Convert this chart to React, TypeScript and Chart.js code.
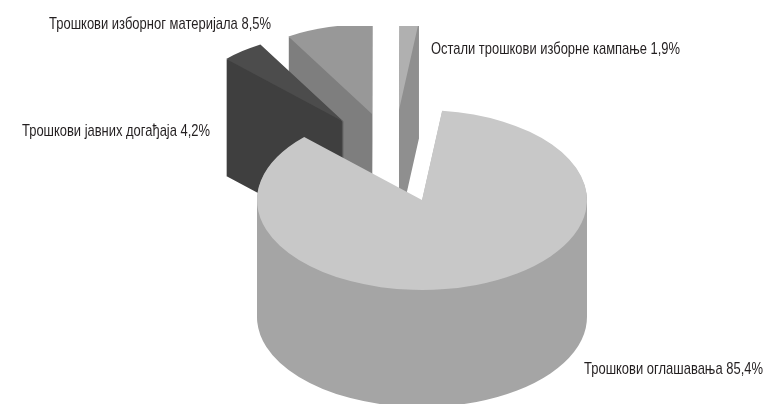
import React, { useEffect, useRef } from "react";
import { Chart, registerables } from "chart.js";

Chart.register(...registerables);

const categories = [
  "Трошкови оглашавања",
  "Трошкови јавних догађаја",
  "Трошкови изборног материјала",
  "Остали трошкови изборне кампање",
];
const shares = [85.4, 4.2, 8.5, 1.9];
const shareLabels = ["85,4%", "4,2%", "8,5%", "1,9%"];
const topColors = ["#c8c8c8", "#4c4c4c", "#989898", "#b0b0b0"];
const wallColors = ["#a5a5a5", "#3f3f3f", "#7e7e7e", "#8f8f8f"];

const SQUASH = 90 / 165;
const DEPTH = 117;
const CLIP_TOP = 26;
const DRAW_ORDER = [2, 3, 1, 0];
const EXPLODE = [
  [0, 0],
  [-78, -78],
  [-50, -86],
  [-23, -90],
];
const LABEL_BOXES = [
  { x: 584, y: 369, w: 179 },
  { x: 22, y: 131, w: 188 },
  { x: 49, y: 24, w: 222 },
  { x: 431, y: 49, w: 249 },
];

// Records the outline an arc element draws, so the swept wall can be filled once.
function outlineOf(arc: any): Path2D {
  const path = new Path2D();
  const recorder = new Proxy(
    {},
    {
      get: (_t, k: any) =>
        ["arc", "lineTo", "moveTo", "closePath"].includes(k)
          ? (...args: any[]) => (path as any)[k](...args)
          : () => {},
      set: () => true,
    }
  );
  arc.draw(recorder);
  return path;
}

const pie3d = {
  id: "pie3d",
  beforeDatasetsDraw(chart: any) {
    const ctx = chart.ctx;
    const arcs = chart.getDatasetMeta(0).data;
    const cx = arcs[0].x;
    const cy = arcs[0].y;
    ctx.save();
    ctx.beginPath();
    ctx.rect(0, CLIP_TOP, chart.width, chart.height - CLIP_TOP);
    ctx.clip();
    DRAW_ORDER.forEach((i) => {
      const arc = arcs[i];
      const [ox, oy] = EXPLODE[i];
      const outline = outlineOf(arc);
      ctx.save();
      ctx.translate(cx + ox, cy + oy);
      ctx.scale(1, SQUASH);
      ctx.translate(-cx, -cy);
      const sweep = new Path2D();
      for (let d = DEPTH; d > 0; d--) {
        sweep.addPath(outline, new DOMMatrix().translate(0, d / SQUASH));
      }
      ctx.fillStyle = wallColors[i];
      ctx.fill(sweep, "nonzero");
      arc.draw(ctx);
      ctx.restore();
    });
    ctx.restore();
    return false;
  },
  afterDraw(chart: any) {
    const ctx = chart.ctx;
    ctx.save();
    ctx.fillStyle = "#231f20";
    ctx.font = '17px "Liberation Sans Narrow", "Liberation Sans", sans-serif';
    ctx.textAlign = "left";
    ctx.textBaseline = "middle";
    categories.forEach((name, i) => {
      const b = LABEL_BOXES[i];
      ctx.fillText(`${name} ${shareLabels[i]}`, b.x, b.y, b.w);
    });
    ctx.restore();
  },
};

export default function App() {
  const ref = useRef<HTMLCanvasElement>(null);
  useEffect(() => {
    const chart = new Chart(ref.current as HTMLCanvasElement, {
      type: "pie",
      data: {
        labels: categories,
        datasets: [{ data: shares, backgroundColor: topColors, borderWidth: 0 }],
      },
      options: {
        responsive: false,
        animation: false,
        rotation: 7,
        layout: { padding: { left: 257, right: 180, top: 35, bottom: 39 } },
        plugins: { legend: { display: false }, tooltip: { enabled: false } },
      },
      plugins: [pie3d],
    } as any);
    return () => chart.destroy();
  }, []);
  return (
    <div style={{ position: "fixed", left: 0, top: 0, width: 767, height: 404, background: "#fff" }}>
      <canvas ref={ref} width={767} height={404} style={{ display: "block" }} />
    </div>
  );
}
